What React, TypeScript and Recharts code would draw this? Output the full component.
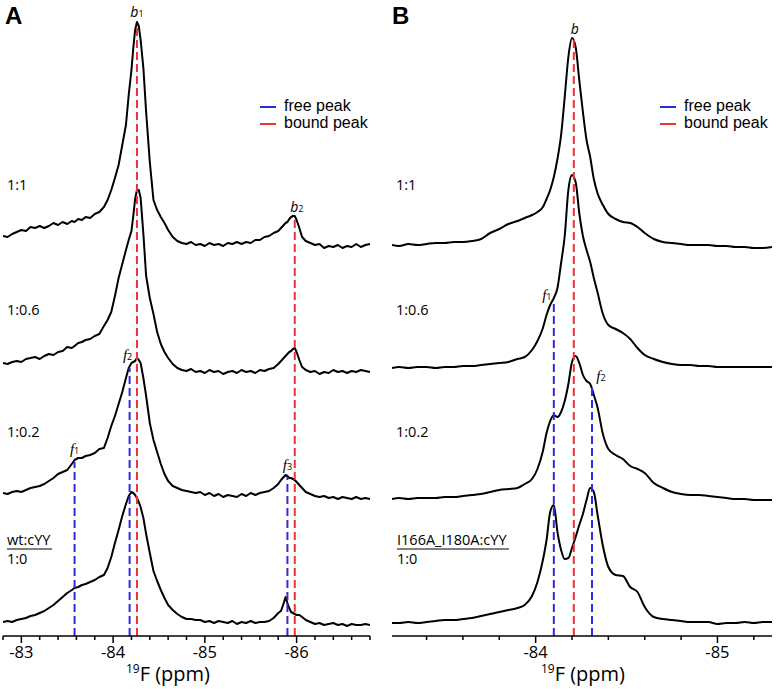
import React from 'react';
import { LineChart, Line, XAxis, YAxis, ReferenceLine, ReferenceDot } from 'recharts';

// ---- panel A (wt:cYY) ----
const ppmA = [
  -82.8, -82.85, -82.9, -82.95, -83, -83.05, -83.1, -83.15, -83.2, -83.25, -83.3, -83.35, -83.4, -83.45, -83.5, -83.55, -83.58, -83.62, -83.66, -83.7, -83.75, -83.8, -83.85,
  -83.9, -83.94, -83.98, -84.02, -84.06, -84.1, -84.14, -84.17, -84.2, -84.22, -84.24, -84.26, -84.28, -84.3, -84.33, -84.36, -84.4, -84.44, -84.48, -84.52, -84.56, -84.6, -84.65,
  -84.7, -84.75, -84.8, -84.85, -84.9, -84.95, -85, -85.05, -85.1, -85.15, -85.2, -85.25, -85.3, -85.35, -85.4, -85.45, -85.5, -85.55, -85.6, -85.65, -85.7, -85.75, -85.8,
  -85.83, -85.86, -85.88, -85.9, -85.92, -85.94, -85.96, -85.98, -86, -86.03, -86.06, -86.1, -86.15, -86.2, -86.25, -86.3, -86.35, -86.4, -86.45, -86.5, -86.55, -86.6, -86.65, -86.7, -86.75, -86.8,
];
const a1to1 = [
  4, 3, 6, 8, 10, 9, 13, 12, 14, 12, 14, 17, 15, 18, 16, 19, 18, 21, 20, 23, 22, 26, 28,
  33, 40, 50, 62, 75, 95, 115, 145, 170, 192, 210, 218, 214, 200, 172, 128, 78, 40, 30, 23, 17, 10, 3,
  -1, -3, -4, -2, -5, -4, -6, -3, -5, -4, -6, -3, -4, -2, -4, -2, -3, 0, 0, 3, 4, 7, 9,
  12, 15, 17, 18, 21, 23, 24, 24, 20, 12, 3, -1, -3, -5, -4, -8, -6, -7, -5, -8, -6, -7, -4, -7, -5, -4,
];
const a1to06 = [
  3, 2, 4, 5, 4, 7, 8, 9, 7, 10, 12, 11, 14, 15, 19, 18, 20, 23, 24, 26, 27, 30, 32,
  40, 46, 54, 70, 88, 102, 116, 126, 135, 150, 167, 176, 176, 168, 132, 90, 68, 52, 34, 22, 14, 8, 2,
  -2, -4, -5, -3, -6, -5, -7, -4, -6, -5, -8, -6, -5, -7, -4, -6, -5, -7, -4, -5, -3, -2, 2,
  5, 8, 10, 12, 14, 15, 17, 18, 14, 6, -1, -4, -6, -5, -8, -6, -7, -4, -6, -5, -7, -5, -6, -4, -5, -6,
];
const a1to02 = [
  3, 2, 4, 5, 4, 6, 8, 9, 10, 12, 15, 18, 22, 24, 26, 32, 36, 38, 38, 40, 41, 43, 47,
  48, 58, 70, 80, 92, 104, 118, 128, 133, 134, 135, 138, 136, 133, 118, 100, 73, 56, 44, 32, 22, 15, 10,
  8, 6, 5, 4, 3, 4, 1, 3, 0, 2, -1, 1, 0, -1, 2, 0, 3, 1, 3, 4, 5, 8, 12,
  16, 19, 21, 20, 18, 18, 17, 16, 14, 11, 8, 4, 2, 0, -1, 0, -2, -1, -3, -1, -2, -3, -1, -3, -2, -3,
];
const a1to0 = [
  1, 2, 1, 3, 4, 5, 7, 8, 10, 12, 15, 18, 22, 26, 30, 33, 35, 36, 38, 39, 41, 43, 46,
  48, 55, 66, 80, 93, 107, 119, 127, 131, 130, 128, 125, 121, 116, 105, 89, 70, 52, 42, 33, 25, 18, 13,
  9, 6, 4, 4, 3, 3, 1, 2, 0, 2, 1, 0, 2, -1, 1, 0, 2, 0, 1, 1, 2, 5, 10,
  12, 20, 26, 20, 15, 11, 10, 9, 8, 8, 6, 3, 1, -1, 0, -2, -1, 0, -2, -1, -3, -1, -2, -2, -1, -2,
];
const offsetsA = [396, 270, 140, 13];
const ticksA = [-82.8, -83, -83.2, -83.4, -83.6, -83.8, -84, -84.2, -84.4, -84.6, -84.8, -85, -85.2, -85.4, -85.6, -85.8, -86, -86.2, -86.4, -86.6, -86.8];
const freeA = [{ ppm: -83.58, top: 174 }, { ppm: -84.18, top: 268 }, { ppm: -85.9, top: 159 }];
const boundA = [{ ppm: -84.26, top: 612 }, { ppm: -85.98, top: 420 }];
const peaksA = [
  { id: 'Ab1', ppm: -84.26, top: 612, name: 'b', sub: '1' },
  { id: 'Ab2', ppm: -85.98, top: 420, name: 'b', sub: '2' },
  { id: 'Af1', ppm: -83.58, top: 174, name: 'f', sub: '1' },
  { id: 'Af2', ppm: -84.18, top: 268, name: 'f', sub: '2' },
  { id: 'Af3', ppm: -85.9, top: 159, name: 'f', sub: '3' },
];
const ratiosA = ['1:1', '1:0.6', '1:0.2'];

// ---- panel B (I166A_I180A:cYY) ----
const ppmB = [
  -83.21, -83.25, -83.3, -83.35, -83.4, -83.45, -83.5, -83.55, -83.6, -83.65, -83.7, -83.75, -83.8, -83.85, -83.9, -83.94, -83.98, -84.01, -84.04,
  -84.06, -84.08, -84.1, -84.12, -84.14, -84.16, -84.18, -84.2, -84.22, -84.24, -84.26, -84.28, -84.3, -84.32, -84.34, -84.37, -84.4, -84.44,
  -84.48, -84.52, -84.56, -84.6, -84.65, -84.7, -84.75, -84.8, -84.85, -84.9, -84.95, -85, -85.05, -85.1, -85.15, -85.2, -85.25, -85.3,
];
const b1to1 = [
  2, 1, 3, 2, 3, 4, 4, 5, 5, 6, 8, 14, 18, 23, 26, 29, 32, 35, 40,
  48, 57, 70, 88, 112, 150, 190, 209, 200, 167, 135, 107, 90, 68, 54, 42, 33, 28,
  25, 24, 20, 14, 8, 5, 4, 3, 2, 2, 2, 1, 1, 0, 0, -1, -1, 0,
];
const b1to06 = [
  0, 1, 0, 1, 1, 0, 1, 1, 2, 2, 3, 4, 5, 6, 9, 11, 18, 27, 40,
  53, 63, 70, 80, 105, 132, 178, 193, 186, 155, 132, 118, 106, 90, 76, 54, 43, 39,
  35, 29, 20, 13, 9, 6, 4, 3, 3, 2, 2, 1, 1, 1, 1, 1, 1, 1,
];
const b1to02 = [
  0, 1, 0, 1, 1, 1, 2, 2, 3, 4, 5, 7, 9, 10, 11, 15, 20, 30, 48,
  66, 78, 84, 82, 87, 98, 115, 137, 143, 136, 124, 118, 115, 104, 92, 65, 50, 44,
  40, 33, 30, 26, 16, 11, 7, 5, 4, 4, 3, 2, 1, 0, 0, -1, -1, -1,
];
const b1to0 = [
  -1, -1, 0, -1, 0, 1, 2, 2, 3, 4, 6, 8, 10, 12, 14, 17, 26, 40, 62,
  82, 110, 117, 90, 72, 63, 64, 74, 85, 97, 108, 122, 134, 130, 108, 76, 55, 47,
  46, 35, 30, 15, 5, 3, 2, 1, 0, 0, 0, -2, -1, -1, 0, -1, 0, 0,
];
const offsetsB = [389, 268, 137, 14];
const ticksB = [-83.4, -83.6, -83.8, -84, -84.2, -84.4, -84.6, -84.8, -85, -85.2];
const freeB = [{ ppm: -84.1, top: 333 }, { ppm: -84.31, top: 251 }];
const boundB = [{ ppm: -84.21, top: 598 }];
const peaksB = [
  { id: 'Bb', ppm: -84.21, top: 598, name: 'b', sub: '' },
  { id: 'Bf1', ppm: -84.1, top: 333, name: 'f', sub: '1' },
  { id: 'Bf2', ppm: -84.31, top: 251, name: 'f', sub: '2' },
];
const ratiosB = ['1:1', '1:0.6', '1:0.2'];

// label nudges (px) relative to the peak top
const nudge: Record<string, [number, number]> = {
  Ab1: [0, -7], Ab2: [2, -4], Af1: [0, -8], Af2: [-2, -8], Af3: [0, -7],
  Bb: [1, -4], Bf1: [-7, -3], Bf2: [9, -4],
};

const RED = '#ec3237';
const BLUE = '#2b2bdf';
const FONT = '"Open Sans", "Noto Sans", sans-serif';

const buildRows = (ppm: number[], traces: number[][], offsets: number[]) =>
  ppm.map((p, i) => {
    const row: Record<string, number> = { ppm: p };
    traces.forEach((t, k) => { row['s' + k] = t[i] + offsets[k]; });
    return row;
  });

const rowsA = buildRows(ppmA, [a1to1, a1to06, a1to02, a1to0], offsetsA);
const rowsB = buildRows(ppmB, [b1to1, b1to06, b1to02, b1to0], offsetsB);

const AxisTick = (props: any) => {
  const { x, y, payload } = props;
  const v = payload.value;
  const major = Math.abs(v - Math.round(v)) < 1e-6;
  return (
    <g>
      <line x1={x} x2={x} y1={y} y2={y + (major ? 7 : 4)} stroke="#000" strokeWidth={1.5} />
      {major && (
        <text x={x} y={y + 22} textAnchor="middle" fontSize={16.5} fontFamily={FONT} fill="#000">
          {Math.round(v)}
        </text>
      )}
    </g>
  );
};

const PeakLabel = (props: any) => {
  const { viewBox, name, sub, id } = props;
  const [dx, dy] = nudge[id] || [0, -6];
  const x = (viewBox?.x ?? 0) + (viewBox?.width ?? 0) / 2 + dx;
  const y = (viewBox?.y ?? 0) + dy;
  const isF = name === 'f';
  return (
    <text x={x} y={y} textAnchor="middle" fill="#000">
      <tspan fontFamily={isF ? '"Liberation Serif", serif' : FONT} fontStyle="italic" fontSize={isF ? 15 : 14}>{name}</tspan>
      {sub ? <tspan fontFamily={FONT} fontSize={9}>{sub}</tspan> : null}
    </text>
  );
};

type Mark = { ppm: number; top: number };
type Peak = Mark & { id: string; name: string; sub: string };

function Spectrum(p: {
  rows: Record<string, number>[]; domain: [number, number]; ticks: number[];
  free: Mark[]; bound: Mark[]; peaks: Peak[]; width: number;
  margin: { top: number; right: number; bottom: number; left: number }; curve: 'linear' | 'monotone';
}) {
  return (
    <LineChart width={p.width} height={689} data={p.rows} margin={p.margin}>
      <XAxis
        type="number"
        dataKey="ppm"
        domain={p.domain}
        reversed
        allowDataOverflow
        ticks={p.ticks}
        interval={0}
        tickLine={false}
        tickSize={0}
        tickMargin={0}
        height={53}
        axisLine={{ stroke: '#000', strokeWidth: 1.5 }}
        tick={<AxisTick />}
      />
      <YAxis hide type="number" domain={[0, 636]} allowDataOverflow />
      {[0, 1, 2, 3].map((k) => (
        <Line
          key={k}
          dataKey={'s' + k}
          type={p.curve}
          stroke="#000"
          strokeWidth={2}
          strokeLinejoin="round"
          dot={false}
          activeDot={false}
          isAnimationActive={false}
        />
      ))}
      {p.bound.map((m, i) => (
        <ReferenceLine
          key={'b' + i}
          segment={[{ x: m.ppm, y: 0 }, { x: m.ppm, y: m.top }]}
          stroke={RED}
          strokeWidth={2}
          strokeDasharray="8 4"
          ifOverflow="visible"
        />
      ))}
      {p.free.map((m, i) => (
        <ReferenceLine
          key={'f' + i}
          segment={[{ x: m.ppm, y: 0 }, { x: m.ppm, y: m.top }]}
          stroke={BLUE}
          strokeWidth={2}
          strokeDasharray="8 4"
          ifOverflow="visible"
        />
      ))}
      {p.peaks.map((pk) => (
        <ReferenceDot
          key={pk.id}
          x={pk.ppm}
          y={pk.top}
          r={0}
          fill="none"
          stroke="none"
          ifOverflow="visible"
          label={<PeakLabel id={pk.id} name={pk.name} sub={pk.sub} />}
        />
      ))}
    </LineChart>
  );
}

const RatioText = ({ x, y, children }: any) => (
  <text x={x} y={y} fontFamily={FONT} fontSize={14.5} fill="#000">{children}</text>
);

export default function App() {
  const ratioY = [190, 315, 437];
  return (
    <div style={{ position: 'absolute', left: 0, top: 0, width: 777, height: 689, background: '#fff' }}>
      <div style={{ position: 'absolute', left: 0, top: 0 }}>
        <Spectrum rows={rowsA} domain={[-86.8, -82.8]} ticks={ticksA} free={freeA} bound={boundA} peaks={peaksA}
          width={377} margin={{ top: 0, right: 7, bottom: 0, left: 3 }} curve="linear" />
      </div>
      <div style={{ position: 'absolute', left: 385, top: 0 }}>
        <Spectrum rows={rowsB} domain={[-85.3, -83.21]} ticks={ticksB} free={freeB} bound={boundB} peaks={peaksB}
          width={392} margin={{ top: 0, right: 5, bottom: 0, left: 7 }} curve="monotone" />
      </div>
      <svg width={777} height={689} style={{ position: 'absolute', left: 0, top: 0, pointerEvents: 'none' }}>
        <text x={5} y={24} fontFamily='"Liberation Sans", Arial, sans-serif' fontWeight="bold" fontSize={24}>A</text>
        <text x={392} y={24} fontFamily='"Liberation Sans", Arial, sans-serif' fontWeight="bold" fontSize={24}>B</text>

        {ratiosA.map((r, i) => <RatioText key={'ra' + i} x={7} y={ratioY[i]}>{r}</RatioText>)}
        <RatioText x={7} y={545}>wt:cYY</RatioText>
        <line x1={7} x2={52} y1={549} y2={549} stroke="#000" strokeWidth={1.2} />
        <RatioText x={7} y={564}>1:0</RatioText>

        {ratiosB.map((r, i) => <RatioText key={'rb' + i} x={396} y={ratioY[i]}>{r}</RatioText>)}
        <RatioText x={397} y={545}>I166A_I180A:cYY</RatioText>
        <line x1={397} x2={509} y1={549} y2={549} stroke="#000" strokeWidth={1.2} />
        <RatioText x={397} y={564}>1:0</RatioText>

        {[0, 1].map((side) => {
          const lx = side === 0 ? 260 : 660;
          return (
            <g key={'lg' + side}>
              <line x1={lx} x2={lx + 16} y1={107} y2={107} stroke={BLUE} strokeWidth={2} />
              <line x1={lx} x2={lx + 16} y1={124} y2={124} stroke={RED} strokeWidth={2} />
              <text x={lx + 24} y={111} fontFamily='"Liberation Sans", Arial, sans-serif' fontSize={16}>free peak</text>
              <text x={lx + 24} y={128} fontFamily='"Liberation Sans", Arial, sans-serif' fontSize={16}>bound peak</text>
            </g>
          );
        })}

        {[168, 583].map((cx, i) => (
          <text key={'t' + i} x={cx} y={681} textAnchor="middle" fontFamily={FONT} fontSize={20}>
            <tspan fontSize={12} dy={-8}>19</tspan>
            <tspan dy={8}>F (ppm)</tspan>
          </text>
        ))}
      </svg>
    </div>
  );
}
